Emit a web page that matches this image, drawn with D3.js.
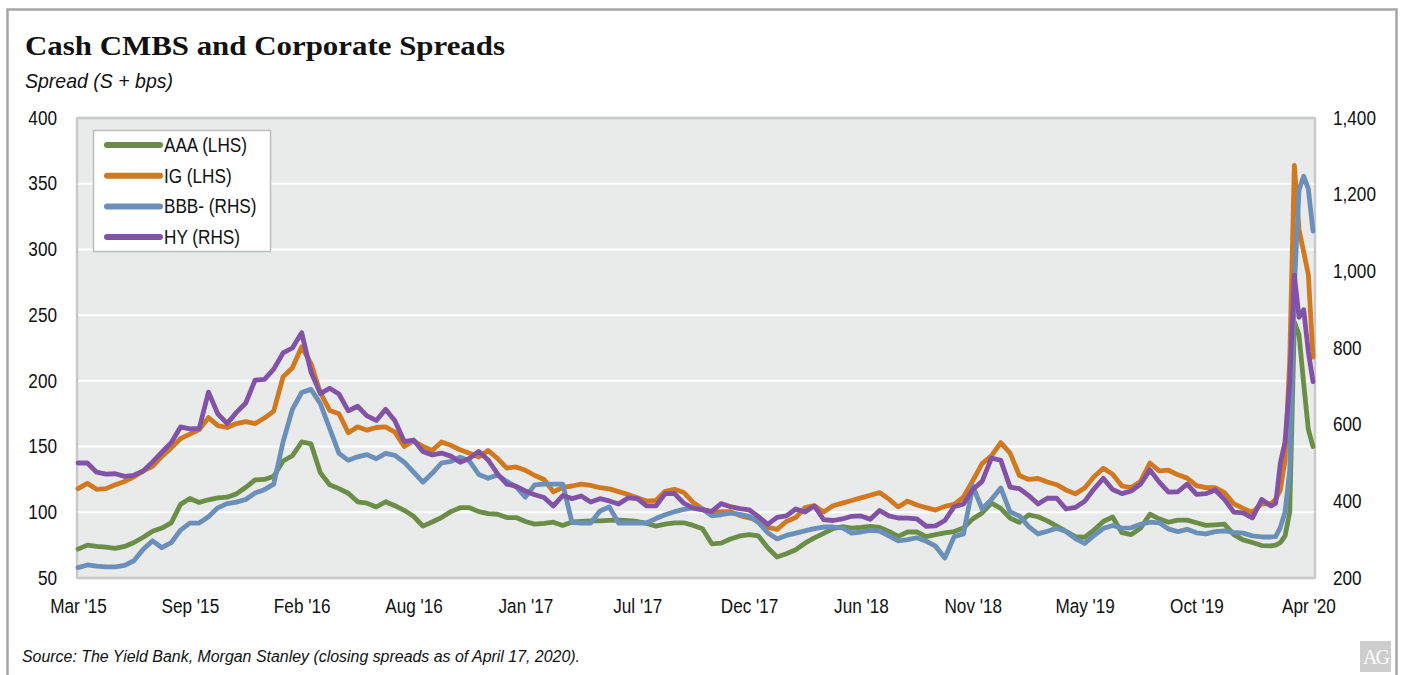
<!DOCTYPE html>
<html>
<head>
<meta charset="utf-8">
<script src="https://cdn.jsdelivr.net/npm/d3@7"></script>
<style>
  html, body { margin: 0; padding: 0; background: #fff; }
  svg { display: block; }
</style>
</head>
<body>
<svg id="chart" width="1403" height="675"></svg>
<script>
// Weekly/bi-weekly closing dates
const dates = [
  "2015-03-20","2015-04-03","2015-04-17","2015-05-01","2015-05-15","2015-05-29","2015-06-12","2015-06-26","2015-07-10","2015-07-24","2015-08-07","2015-08-21","2015-09-04","2015-09-18","2015-10-02","2015-10-16","2015-10-30","2015-11-13","2015-11-27","2015-12-11","2015-12-25",
  "2016-01-08","2016-01-22","2016-02-05","2016-02-19","2016-03-04","2016-03-18","2016-04-01","2016-04-15","2016-04-29","2016-05-13","2016-05-27","2016-06-10","2016-06-24","2016-07-08","2016-07-22","2016-08-05","2016-08-19","2016-09-02","2016-09-16","2016-09-30","2016-10-14","2016-10-28","2016-11-11","2016-11-25","2016-12-09","2016-12-23",
  "2017-01-06","2017-01-20","2017-02-03","2017-02-17","2017-03-03","2017-03-17","2017-03-31","2017-04-14","2017-04-28","2017-05-12","2017-05-26","2017-06-09","2017-06-23","2017-07-07","2017-07-21","2017-08-04","2017-08-18","2017-09-01","2017-09-15","2017-09-29","2017-10-13","2017-10-27","2017-11-10","2017-11-24","2017-12-08","2017-12-22",
  "2018-01-05","2018-01-19","2018-02-02","2018-02-16","2018-03-02","2018-03-16","2018-03-30","2018-04-13","2018-04-27","2018-05-11","2018-05-25","2018-06-08","2018-06-22","2018-07-06","2018-07-20","2018-08-03","2018-08-17","2018-08-31","2018-09-14","2018-09-28","2018-10-12","2018-10-26","2018-11-09","2018-11-23","2018-12-07","2018-12-21",
  "2019-01-04","2019-01-18","2019-02-01","2019-02-15","2019-03-01","2019-03-15","2019-03-29","2019-04-12","2019-04-26","2019-05-10","2019-05-24","2019-06-07","2019-06-21","2019-07-05","2019-07-19","2019-08-02","2019-08-16","2019-08-30","2019-09-13","2019-09-27","2019-10-11","2019-10-25","2019-11-08","2019-11-22","2019-12-06","2019-12-20",
  "2020-01-03","2020-01-17","2020-01-31","2020-02-14","2020-02-21","2020-02-28","2020-03-06","2020-03-13","2020-03-20","2020-03-27","2020-04-03","2020-04-10","2020-04-17"
];

// CMBS AAA spread (left axis, bps)
const aaa = [72,75,74,73.5,72.5,74,77,81,85.5,88, 92,106,110.5,107.5,109.5,111,111.5,114,119,124.6,
  125,127.5,139,143,153.5,152,130,121,118,114.5, 108,107,104,108,105,101.5,97,89.5,92.6,96,
  100.5,103.5,103.5,100.5,99,98.5,96,96,93,91, 91.5,92.5,90,92.6,93,93.4,93.5,93.8,94,93.6,
  93,91.5,89.5,91,92,92,90,87.5,76,76.5, 79.7,82,83,82,73,66,68.5,71.5,76.5,80.5,
  84,87.5,89,88,88.5,89.2,88.5,85.5,81.7,85, 85,81.5,83,84.3,85.3,88,95,99.5,107,103,
  95.6,92.3,98,96.6,93.5,89.5,85.5,81.5,81,86.5, 93,96.4,84.5,83,88,98.5,95,92.4,94,94,
  92,90,90.5,91,83,79,77,74.7,74.5, 75,77,82,100,245,235,198,163,150];

// Investment grade corporate spread (left axis, bps)
const ig = [118,122,117.5,118,121,123.5,127,131.5,135,142.5, 149,156,159.5,163,172,166,164.5,167.5,169,167.5,
  171.7,177,203,210,226,213,191,177.5,175,160.5, 165,162.5,164.5,165,161,150,154.5,150,147,153.5,
  151,147.5,145,142,147,141,133.7,134.5,132,128, 125,115.5,119,120,121.5,120.5,118.7,117.8,115.7,113.5,
  111,108.5,109,116,117.5,115,107.5,102.5,100,100.5, 100.5,97.5,95.8,94.3,88.5,87,93,96,103.5,105,
  100.3,105,107,109,111,113,115,110,104,108.5, 105.5,103.5,101.7,104.5,106,111.6,124,137,143,153,
  145,128,125,125.7,123,121,117,114,118.5,127, 133.5,129,120,118.8,123.5,137.5,131.5,132,128.5,126,
  120.3,118.7,118.8,115,106.5,103,100,106.5,106.5, 110,117,140,215,364,315,298,281,218];

// CMBS BBB- spread (right axis, bps)
const bbb = [227,234,231,229,229,233,245,275,297,279, 292,325,343,343.5,360,383,394,398,405,422,
  430.5,445,555,640,684,692,655,590,525,507, 516,522,511,525,520,502,476,450,473,500,
  504,515,505,470,460,469,452,438,411,443, 445,445,445,345,343.5,343.5,375,385,343.5,343.5,
  343.5,343.5,355,365,373,379,383,380,362,365, 369,366,361,345,318,302,311,317,323,329,
  333,333,331,317,320,324.5,322.6,310,297,300, 305,296,283,252,308,315,440,380,405,435,
  372,362,334,315,322,330,321,303,290,311, 329,337,330,331,340,345.5,344,328,321,327,
  318,315,321,323,319,317,310,307,307, 308,332,372,480,960,1212,1248,1215,1105];

// High yield corporate spread (right axis, bps)
const hy = [500,500,476,471,472,465,468,479,503,528, 553,594,589,590,685,628,603,632,656.5,716,
  718,745,787,800,840,737,681,695,680,636, 648,623,611,640,610,556,560,530,521,526,
  518,502,512,530,508,472,445,439,427,417, 410,388,415,407,414,398,407,401,393,409,
  407,388,388,420,420,395,382,378,374,394, 386,381,378,360,340,358,362,380,372,388,
  352,350,354,361,362,353,376,362,356.5,356, 354,335,336,350,386,393,431,452,513,507,
  437,433,415,393,408,408,380,384,400,432, 460,431,420,427,445,482,450,424,425,445,
  418,420,429.6,405,372,370,357,405,388, 395,500,555,710,990,880,900,790,712];

const leftTicks = [50,100,150,200,250,300,350,400];
const rightTicks = [200,400,600,800,1000,1200,1400];
const xTickDates = ["2015-03-20","2015-09-04","2016-02-19","2016-08-05","2017-01-20","2017-07-07",
  "2017-12-22","2018-06-08","2018-11-23","2019-05-10","2019-10-25","2020-04-10"];
const xTickLabels = ["Mar '15","Sep '15","Feb '16","Aug '16","Jan '17","Jul '17",
  "Dec '17","Jun '18","Nov '18","May '19","Oct '19","Apr '20"];

const seriesInfo = [
  { name: "AAA (LHS)",  values: aaa, axis: "L", color: "#6a8e48" },
  { name: "IG (LHS)",   values: ig,  axis: "L", color: "#d2791f" },
  { name: "BBB- (RHS)", values: bbb, axis: "R", color: "#6a8fb8" },
  { name: "HY (RHS)",   values: hy,  axis: "R", color: "#8152a5" }
];

const plot = { left: 77, right: 1315, top: 118, bottom: 578 };
const SANS = "'Liberation Sans', Arial, sans-serif";
const NARROW = 0.88;   // horizontal squeeze for the narrow sans labels

const svg = d3.select("#chart");
const parse = d3.timeParse("%Y-%m-%d");
const dt = dates.map(parse);

const x = d3.scaleTime().domain([dt[0], dt[dt.length - 1]]).range([78, 1313]);
const yL = d3.scaleLinear().domain([50, 400]).range([plot.bottom, plot.top]);
const yR = d3.scaleLinear().domain([200, 1400]).range([plot.bottom, plot.top]);

// squeeze text horizontally while keeping its anchor point
function narrow(sel, k) {
  sel.each(function () {
    const t = d3.select(this);
    const xx = +t.attr("x") || 0;
    t.attr("x", xx / k).attr("transform", `scale(${k},1)`);
  });
}

// outer frame
svg.append("rect")
  .attr("x", 7.5).attr("y", 9.5).attr("width", 1389).attr("height", 720)
  .attr("fill", "#fff").attr("stroke", "#a6a6a6").attr("stroke-width", 2.5);

// title + subtitle
svg.append("text")
  .attr("x", 25).attr("y", 55)
  .attr("textLength", 480).attr("lengthAdjust", "spacingAndGlyphs")
  .style("font-family", "'Liberation Serif', 'Times New Roman', serif")
  .style("font-weight", "bold").style("font-size", "28px").style("fill", "#111")
  .text("Cash CMBS and Corporate Spreads");

svg.append("text")
  .attr("x", 25).attr("y", 88)
  .attr("textLength", 148).attr("lengthAdjust", "spacingAndGlyphs")
  .style("font-family", SANS).style("font-style", "italic")
  .style("font-size", "21px").style("fill", "#111")
  .text("Spread (S + bps)");

// plot background and gridlines
svg.append("rect")
  .attr("x", plot.left).attr("y", plot.top)
  .attr("width", plot.right - plot.left).attr("height", plot.bottom - plot.top)
  .attr("fill", "#e9eaea");

svg.append("g").selectAll("line")
  .data(leftTicks.filter(d => d > 50 && d < 400))
  .join("line")
  .attr("x1", plot.left).attr("x2", plot.right)
  .attr("y1", d => yL(d)).attr("y2", d => yL(d))
  .attr("stroke", "#ffffff").attr("stroke-width", 2);

// plot border
svg.append("rect")
  .attr("x", plot.left).attr("y", plot.top)
  .attr("width", plot.right - plot.left).attr("height", plot.bottom - plot.top)
  .attr("fill", "none").attr("stroke", "#c9c9c9").attr("stroke-width", 2.5);

// axes
const gL = svg.append("g").attr("transform", `translate(${plot.left},0)`)
  .call(d3.axisLeft(yL).tickValues(leftTicks).tickSize(0).tickPadding(20).tickFormat(d3.format("d")));
const gR = svg.append("g").attr("transform", `translate(${plot.right},0)`)
  .call(d3.axisRight(yR).tickValues(rightTicks).tickSize(0).tickPadding(18).tickFormat(d3.format(",")));
const gX = svg.append("g").attr("transform", `translate(0,${plot.bottom})`)
  .call(d3.axisBottom(x).tickValues(xTickDates.map(parse)).tickSize(0).tickPadding(21)
    .tickFormat((d, i) => xTickLabels[i]));

[gL, gR, gX].forEach(g => {
  g.select(".domain").remove();
  g.selectAll("text")
    .style("font-family", SANS).style("font-size", "19.5px").style("fill", "#111")
    .call(narrow, NARROW);
});

// series lines
const lineL = d3.line().x((d, i) => x(dt[i])).y(d => yL(d));
const lineR = d3.line().x((d, i) => x(dt[i])).y(d => yR(d));

svg.append("g").selectAll("path")
  .data(seriesInfo)
  .join("path")
  .attr("d", s => (s.axis === "L" ? lineL : lineR)(s.values))
  .attr("fill", "none")
  .attr("stroke", s => s.color)
  .attr("stroke-width", 4.8)
  .attr("stroke-linejoin", "round")
  .attr("stroke-linecap", "round");

// legend
const lg = svg.append("g");
lg.append("rect")
  .attr("x", 93.5).attr("y", 130.5).attr("width", 177).attr("height", 121)
  .attr("fill", "#ffffff").attr("stroke", "#bdbdbd").attr("stroke-width", 1.5);
const items = lg.selectAll("g.item").data(seriesInfo).join("g")
  .attr("class", "item")
  .attr("transform", (d, i) => `translate(0,${145 + i * 30.7})`);
items.append("line")
  .attr("x1", 107).attr("x2", 160).attr("y1", 0).attr("y2", 0)
  .attr("stroke", d => d.color).attr("stroke-width", 6).attr("stroke-linecap", "round");
items.append("text")
  .attr("x", 164).attr("y", 0).attr("dy", "0.35em")
  .style("font-family", SANS).style("font-size", "19.5px").style("fill", "#111")
  .text(d => d.name)
  .call(narrow, NARROW);

// source note
svg.append("text")
  .attr("x", 22).attr("y", 662)
  .attr("textLength", 558).attr("lengthAdjust", "spacingAndGlyphs")
  .style("font-family", SANS).style("font-style", "italic")
  .style("font-size", "16px").style("fill", "#111")
  .text("Source: The Yield Bank, Morgan Stanley (closing spreads as of April 17, 2020).");

// AG mark
const ag = svg.append("g").attr("transform", "translate(1360,641)");
ag.append("rect").attr("width", 31).attr("height", 31).attr("fill", "#cdcdcd");
ag.append("text").attr("x", 15.5).attr("y", 23).attr("text-anchor", "middle")
  .attr("letter-spacing", -2)
  .style("font-family", "'Liberation Serif', serif").style("font-size", "20px").style("fill", "#fff")
  .text("AG");
</script>
</body>
</html>
